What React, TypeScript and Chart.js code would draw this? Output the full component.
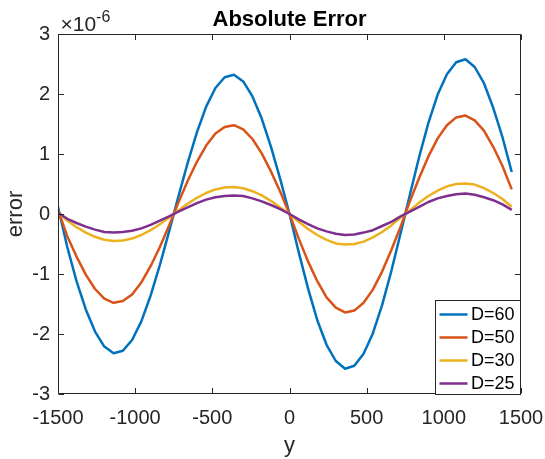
import React, { useEffect, useRef } from "react";
import { Chart, registerables } from "chart.js";

Chart.register(...registerables);

// y positions (x axis)
const yPositions = [
  -1500, -1440, -1380, -1320, -1260, -1200, -1140, -1080, -1020, -960,
  -900, -840, -780, -720, -660, -600, -540, -480, -420, -360,
  -300, -240, -180, -120, -60, 0, 60, 120, 180, 240,
  300, 360, 420, 480, 540, 600, 660, 720, 780, 840,
  900, 960, 1020, 1080, 1140, 1200, 1260, 1320, 1380, 1440,
];

// error values in units of 1e-6
const errD60 = [
  0.12, -0.55, -1.12, -1.59, -1.96, -2.21, -2.32, -2.28, -2.10, -1.79,
  -1.36, -0.85, -0.29, 0.29, 0.85, 1.36, 1.79, 2.10, 2.28, 2.32,
  2.21, 1.96, 1.59, 1.12, 0.58, 0.00, -0.64, -1.24, -1.77, -2.18,
  -2.45, -2.58, -2.53, -2.33, -1.99, -1.52, -0.95, -0.32, 0.32, 0.95,
  1.52, 1.99, 2.33, 2.53, 2.58, 2.45, 2.18, 1.77, 1.28, 0.70,
];
const errD50 = [
  0.07, -0.37, -0.71, -1.01, -1.25, -1.41, -1.48, -1.45, -1.34, -1.14,
  -0.87, -0.55, -0.19, 0.19, 0.55, 0.87, 1.14, 1.34, 1.45, 1.48,
  1.41, 1.25, 1.01, 0.71, 0.37, 0.00, -0.41, -0.79, -1.12, -1.39,
  -1.56, -1.64, -1.61, -1.48, -1.26, -0.96, -0.60, -0.21, 0.21, 0.60,
  0.96, 1.26, 1.48, 1.61, 1.64, 1.56, 1.39, 1.12, 0.80, 0.41,
];
const errD30 = [
  0.03, -0.11, -0.22, -0.31, -0.38, -0.43, -0.45, -0.44, -0.41, -0.35,
  -0.27, -0.17, -0.06, 0.06, 0.17, 0.27, 0.35, 0.41, 0.44, 0.45,
  0.43, 0.38, 0.31, 0.22, 0.11, 0.00, -0.13, -0.25, -0.35, -0.43,
  -0.49, -0.51, -0.50, -0.46, -0.39, -0.30, -0.19, -0.06, 0.06, 0.19,
  0.30, 0.39, 0.46, 0.50, 0.51, 0.49, 0.43, 0.35, 0.25, 0.12,
];
const errD25 = [
  0.02, -0.08, -0.15, -0.21, -0.26, -0.30, -0.31, -0.30, -0.28, -0.24,
  -0.18, -0.11, -0.04, 0.04, 0.11, 0.18, 0.24, 0.28, 0.30, 0.31,
  0.30, 0.26, 0.21, 0.15, 0.08, 0.00, -0.09, -0.17, -0.24, -0.29,
  -0.33, -0.35, -0.34, -0.31, -0.27, -0.20, -0.13, -0.04, 0.04, 0.12,
  0.20, 0.26, 0.30, 0.33, 0.34, 0.32, 0.28, 0.23, 0.16, 0.07,
];

const seriesLabels = ["D=60", "D=50", "D=30", "D=25"];
const seriesValues = [errD60, errD50, errD30, errD25];
const seriesColors = ["#0072BD", "#D95319", "#EDB120", "#7E2F8E"];

const xTickValues = [-1500, -1000, -500, 0, 500, 1000, 1500];
const yTickValues = [-3, -2, -1, 0, 1, 2, 3];

const titleText = "Absolute Error";
const xLabel = "y";
const yLabel = "error";
const exponentBase = "×10";
const exponentPower = "-6";

const FONT = '"Liberation Sans", Arial, Helvetica, sans-serif';
const AXIS_COLOR = "#262626";

export default function App() {
  const ref = useRef<HTMLCanvasElement>(null);

  useEffect(() => {
    const canvas = ref.current;
    if (!canvas) return;

    const decor = {
      id: "matlabDecor",
      afterDraw(chart: any) {
        const { ctx, chartArea: a, scales } = chart;
        const L = Math.round(a.left) + 0.5;
        const R = Math.round(a.right) - 0.5;
        const T = Math.round(a.top) + 0.5;
        const B = Math.round(a.bottom) - 0.5;
        ctx.save();
        ctx.strokeStyle = AXIS_COLOR;
        ctx.lineWidth = 1;
        ctx.beginPath();
        ctx.rect(L, T, R - L, B - T);
        ctx.stroke();
        const tl = 5.5;
        ctx.beginPath();
        for (const v of xTickValues) {
          const px = Math.round(scales.x.getPixelForValue(v)) + 0.5;
          ctx.moveTo(px, B);
          ctx.lineTo(px, B - tl);
          ctx.moveTo(px, T);
          ctx.lineTo(px, T + tl);
        }
        for (const v of yTickValues) {
          const py = Math.round(scales.y.getPixelForValue(v)) + 0.5;
          ctx.moveTo(L, py);
          ctx.lineTo(L + tl, py);
          ctx.moveTo(R, py);
          ctx.lineTo(R - tl, py);
        }
        ctx.stroke();

        // title
        ctx.fillStyle = "#000";
        ctx.font = `bold 22px ${FONT}`;
        ctx.textAlign = "center";
        ctx.textBaseline = "alphabetic";
        ctx.fillText(titleText, (a.left + a.right) / 2, 26);

        // exponent
        ctx.fillStyle = AXIS_COLOR;
        ctx.textAlign = "left";
        ctx.font = `21px ${FONT}`;
        const ex = a.left + 2.5;
        ctx.fillText(exponentBase, ex, 30.5);
        const w = ctx.measureText(exponentBase).width;
        ctx.font = `16px ${FONT}`;
        ctx.fillText(exponentPower, ex + w, 21.5);

        // legend
        const lw = 85;
        const lh = 94;
        const lx = Math.round(a.right) - lw - 0.5;
        const ly = Math.round(a.bottom) - lh + 0.5;
        ctx.fillStyle = "#fff";
        ctx.fillRect(lx, ly, lw, lh);
        ctx.strokeStyle = AXIS_COLOR;
        ctx.lineWidth = 1;
        ctx.strokeRect(lx, ly, lw, lh);
        ctx.font = `18px ${FONT}`;
        ctx.textBaseline = "middle";
        seriesLabels.forEach((lab, i) => {
          const cy = ly + 14 + i * 23;
          ctx.strokeStyle = seriesColors[i];
          ctx.lineWidth = 2.5;
          ctx.beginPath();
          ctx.moveTo(lx + 4, cy);
          ctx.lineTo(lx + 32, cy);
          ctx.stroke();
          ctx.fillStyle = "#000";
          ctx.fillText(lab, lx + 35.5, cy + 1);
        });
        ctx.restore();
      },
    };

    const datasets = seriesLabels.map((lab, i) => ({
      label: lab,
      data: yPositions.map((x, k) => ({ x, y: seriesValues[i][k] })),
      borderColor: seriesColors[i],
      backgroundColor: seriesColors[i],
      borderWidth: 2.5,
      pointRadius: 0,
      tension: 0,
      fill: false,
      borderJoinStyle: "round" as const,
      order: seriesLabels.length - i,
    }));

    const chart = new Chart(canvas, {
      type: "line",
      data: { datasets },
      options: {
        animation: false,
        responsive: false,
        maintainAspectRatio: false,
        devicePixelRatio: 1,
        layout: { padding: { left: 0, right: 24, top: 34, bottom: 0 } },
        plugins: {
          legend: { display: false },
          tooltip: { enabled: false },
          title: { display: false },
        },
        scales: {
          x: {
            type: "linear",
            min: -1500,
            max: 1500,
            afterBuildTicks: (s: any) => {
              s.ticks = xTickValues.map((v) => ({ value: v }));
            },
            ticks: {
              color: AXIS_COLOR,
              font: { family: FONT, size: 20 },
              padding: 12,
              maxRotation: 0,
              autoSkip: false,
              callback: (v: any) => String(v),
            },
            grid: { display: false, drawTicks: false },
            border: { display: false },
            title: {
              display: true,
              text: xLabel,
              color: AXIS_COLOR,
              font: { family: FONT, size: 22 },
              padding: { top: 0, bottom: 0 },
            },
            afterFit: (s: any) => {
              s.height = 65;
              s.paddingLeft = 0;
              s.paddingRight = 0;
            },
          },
          y: {
            type: "linear",
            min: -3,
            max: 3,
            afterBuildTicks: (s: any) => {
              s.ticks = yTickValues.map((v) => ({ value: v }));
            },
            ticks: {
              color: AXIS_COLOR,
              font: { family: FONT, size: 20 },
              padding: 8,
              autoSkip: false,
              callback: (v: any) => String(v),
            },
            grid: { display: false, drawTicks: false },
            border: { display: false },
            title: {
              display: true,
              text: yLabel,
              color: AXIS_COLOR,
              font: { family: FONT, size: 22 },
              padding: { top: 3, bottom: 0 },
            },
            afterFit: (s: any) => {
              s.width = 58;
              s.paddingTop = 0;
              s.paddingBottom = 0;
            },
          },
        },
      },
      plugins: [decor],
    });

    return () => chart.destroy();
  }, []);

  return (
    <div style={{ position: "absolute", left: 0, top: 0, width: 545, height: 459, background: "#fff" }}>
      <canvas ref={ref} width={545} height={459} style={{ display: "block" }} />
    </div>
  );
}
